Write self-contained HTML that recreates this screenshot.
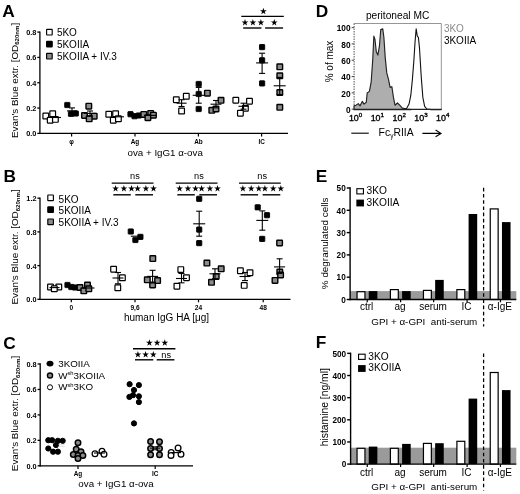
<!DOCTYPE html>
<html><head><meta charset="utf-8"><title>figure</title>
<style>html,body{margin:0;padding:0;background:#fff;}body{width:520px;height:494px;overflow:hidden;font-family:"Liberation Sans",sans-serif;}svg{display:block;filter:grayscale(1) blur(0.35px);}text{font-family:"Liberation Sans",sans-serif;}</style>
</head><body>
<svg width="520" height="494" viewBox="0 0 520 494">
<rect width="520" height="494" fill="#fff"/>
<text x="2.20" y="16.70" font-size="17.3" text-anchor="start" font-weight="bold" fill="#000" >A</text>
<line x1="39.90" y1="31.45" x2="39.90" y2="134.05" stroke="#000" stroke-width="1.3" />
<line x1="37.30" y1="133.40" x2="39.90" y2="133.40" stroke="#000" stroke-width="1.3" />
<text x="36.40" y="136.33" font-size="7.3" text-anchor="end" font-weight="bold" fill="#000" >0.0</text>
<line x1="37.30" y1="108.08" x2="39.90" y2="108.08" stroke="#000" stroke-width="1.3" />
<text x="36.40" y="111.00" font-size="7.3" text-anchor="end" font-weight="bold" fill="#000" >0.2</text>
<line x1="37.30" y1="82.75" x2="39.90" y2="82.75" stroke="#000" stroke-width="1.3" />
<text x="36.40" y="85.68" font-size="7.3" text-anchor="end" font-weight="bold" fill="#000" >0.4</text>
<line x1="37.30" y1="57.43" x2="39.90" y2="57.43" stroke="#000" stroke-width="1.3" />
<text x="36.40" y="60.35" font-size="7.3" text-anchor="end" font-weight="bold" fill="#000" >0.6</text>
<line x1="37.30" y1="32.10" x2="39.90" y2="32.10" stroke="#000" stroke-width="1.3" />
<text x="36.40" y="35.03" font-size="7.3" text-anchor="end" font-weight="bold" fill="#000" >0.8</text>
<line x1="39.30" y1="133.40" x2="288.00" y2="133.40" stroke="#000" stroke-width="1.3" />
<text transform="translate(17.50,80.40) rotate(-90)" font-size="9.85" text-anchor="middle" font-weight="normal" fill="#000" >Evan's Blue extr. [OD<tspan font-size="6.1" dy="1.6" font-weight="bold">620nm</tspan><tspan dy="-1.6">]</tspan></text>
<rect x="46.60" y="29.40" width="5.6" height="5.6" fill="#fff" stroke="#000" stroke-width="1.15" rx="0.45"/>
<text x="56.90" y="36.10" font-size="10" text-anchor="start" font-weight="normal" fill="#000" >5KO</text>
<rect x="46.60" y="41.40" width="5.6" height="5.6" fill="#000" stroke="#000" stroke-width="1.15" rx="0.45"/>
<text x="56.90" y="48.10" font-size="10" text-anchor="start" font-weight="normal" fill="#000" >5KOIIA</text>
<rect x="46.60" y="53.40" width="5.6" height="5.6" fill="#8c8c8c" stroke="#000" stroke-width="1.15" rx="0.45"/>
<text x="56.90" y="60.10" font-size="10" text-anchor="start" font-weight="normal" fill="#000" >5KOIIA + IV.3</text>
<line x1="71.60" y1="133.40" x2="71.60" y2="136.40" stroke="#000" stroke-width="1.2" />
<text x="71.60" y="143.60" font-size="6.4" text-anchor="middle" font-weight="bold" fill="#000" >φ</text>
<line x1="135.00" y1="133.40" x2="135.00" y2="136.40" stroke="#000" stroke-width="1.2" />
<text x="135.00" y="143.60" font-size="6.4" text-anchor="middle" font-weight="bold" fill="#000" >Ag</text>
<line x1="198.40" y1="133.40" x2="198.40" y2="136.40" stroke="#000" stroke-width="1.2" />
<text x="198.40" y="143.60" font-size="6.4" text-anchor="middle" font-weight="bold" fill="#000" >Ab</text>
<line x1="261.60" y1="133.40" x2="261.60" y2="136.40" stroke="#000" stroke-width="1.2" />
<text x="261.60" y="143.60" font-size="6.4" text-anchor="middle" font-weight="bold" fill="#000" >IC</text>
<text x="165.20" y="155.60" font-size="9.75" text-anchor="middle" font-weight="normal" fill="#000" >ova + IgG1 α-ova</text>
<rect x="42.95" y="113.15" width="5.7" height="5.7" fill="#fff" stroke="#000" stroke-width="1.2" rx="0.45"/>
<rect x="49.85" y="110.95" width="5.7" height="5.7" fill="#fff" stroke="#000" stroke-width="1.2" rx="0.45"/>
<rect x="47.35" y="117.35" width="5.7" height="5.7" fill="#fff" stroke="#000" stroke-width="1.2" rx="0.45"/>
<rect x="52.55" y="116.55" width="5.7" height="5.7" fill="#fff" stroke="#000" stroke-width="1.2" rx="0.45"/>
<line x1="51.00" y1="117.50" x2="61.00" y2="117.50" stroke="#000" stroke-width="1.1" />
<rect x="64.70" y="102.40" width="5.2" height="5.2" fill="#000" stroke="#000" stroke-width="0.9" rx="0.45"/>
<rect x="68.40" y="111.20" width="5.2" height="5.2" fill="#000" stroke="#000" stroke-width="0.9" rx="0.45"/>
<rect x="73.20" y="110.90" width="5.2" height="5.2" fill="#000" stroke="#000" stroke-width="0.9" rx="0.45"/>
<line x1="67.00" y1="110.90" x2="77.00" y2="110.90" stroke="#000" stroke-width="1.1" />
<line x1="72.00" y1="107.90" x2="72.00" y2="113.90" stroke="#000" stroke-width="1.1" />
<line x1="69.00" y1="107.90" x2="75.00" y2="107.90" stroke="#000" stroke-width="1.1" />
<line x1="69.00" y1="113.90" x2="75.00" y2="113.90" stroke="#000" stroke-width="1.1" />
<rect x="86.00" y="103.40" width="5.6" height="5.6" fill="#8c8c8c" stroke="#000" stroke-width="1.4" rx="0.45"/>
<rect x="81.70" y="112.70" width="5.6" height="5.6" fill="#8c8c8c" stroke="#000" stroke-width="1.4" rx="0.45"/>
<rect x="91.40" y="113.40" width="5.6" height="5.6" fill="#8c8c8c" stroke="#000" stroke-width="1.4" rx="0.45"/>
<rect x="86.40" y="116.00" width="5.6" height="5.6" fill="#8c8c8c" stroke="#000" stroke-width="1.4" rx="0.45"/>
<line x1="84.00" y1="113.40" x2="96.00" y2="113.40" stroke="#000" stroke-width="1.1" />
<line x1="90.00" y1="111.00" x2="90.00" y2="116.00" stroke="#000" stroke-width="1.1" />
<line x1="87.00" y1="111.00" x2="93.00" y2="111.00" stroke="#000" stroke-width="1.1" />
<line x1="87.00" y1="116.00" x2="93.00" y2="116.00" stroke="#000" stroke-width="1.1" />
<rect x="105.95" y="111.45" width="5.7" height="5.7" fill="#fff" stroke="#000" stroke-width="1.2" rx="0.45"/>
<rect x="112.75" y="110.95" width="5.7" height="5.7" fill="#fff" stroke="#000" stroke-width="1.2" rx="0.45"/>
<rect x="110.45" y="117.35" width="5.7" height="5.7" fill="#fff" stroke="#000" stroke-width="1.2" rx="0.45"/>
<rect x="115.55" y="115.95" width="5.7" height="5.7" fill="#fff" stroke="#000" stroke-width="1.2" rx="0.45"/>
<line x1="113.00" y1="116.80" x2="124.00" y2="116.80" stroke="#000" stroke-width="1.1" />
<rect x="127.90" y="111.60" width="5.2" height="5.2" fill="#000" stroke="#000" stroke-width="0.9" rx="0.45"/>
<rect x="131.90" y="113.60" width="5.2" height="5.2" fill="#000" stroke="#000" stroke-width="0.9" rx="0.45"/>
<rect x="136.20" y="112.90" width="5.2" height="5.2" fill="#000" stroke="#000" stroke-width="0.9" rx="0.45"/>
<line x1="129.00" y1="115.20" x2="140.00" y2="115.20" stroke="#000" stroke-width="1.1" />
<rect x="141.00" y="111.60" width="5.6" height="5.6" fill="#8c8c8c" stroke="#000" stroke-width="1.4" rx="0.45"/>
<rect x="147.90" y="110.60" width="5.6" height="5.6" fill="#8c8c8c" stroke="#000" stroke-width="1.4" rx="0.45"/>
<rect x="145.10" y="114.90" width="5.6" height="5.6" fill="#8c8c8c" stroke="#000" stroke-width="1.4" rx="0.45"/>
<rect x="150.60" y="112.40" width="5.6" height="5.6" fill="#8c8c8c" stroke="#000" stroke-width="1.4" rx="0.45"/>
<line x1="144.00" y1="115.40" x2="157.00" y2="115.40" stroke="#000" stroke-width="1.1" />
<rect x="173.45" y="96.85" width="5.7" height="5.7" fill="#fff" stroke="#000" stroke-width="1.2" rx="0.45"/>
<rect x="183.45" y="93.45" width="5.7" height="5.7" fill="#fff" stroke="#000" stroke-width="1.2" rx="0.45"/>
<rect x="178.75" y="108.15" width="5.7" height="5.7" fill="#fff" stroke="#000" stroke-width="1.2" rx="0.45"/>
<line x1="176.60" y1="103.20" x2="186.60" y2="103.20" stroke="#000" stroke-width="1.1" />
<line x1="181.60" y1="99.70" x2="181.60" y2="106.50" stroke="#000" stroke-width="1.1" />
<line x1="178.60" y1="99.70" x2="184.60" y2="99.70" stroke="#000" stroke-width="1.1" />
<line x1="178.60" y1="106.50" x2="184.60" y2="106.50" stroke="#000" stroke-width="1.1" />
<rect x="196.10" y="81.40" width="5.2" height="5.2" fill="#000" stroke="#000" stroke-width="0.9" rx="0.45"/>
<rect x="196.10" y="91.40" width="5.2" height="5.2" fill="#000" stroke="#000" stroke-width="0.9" rx="0.45"/>
<rect x="196.10" y="106.40" width="5.2" height="5.2" fill="#000" stroke="#000" stroke-width="0.9" rx="0.45"/>
<line x1="192.70" y1="95.30" x2="204.70" y2="95.30" stroke="#000" stroke-width="1.1" />
<line x1="198.70" y1="87.40" x2="198.70" y2="103.20" stroke="#000" stroke-width="1.1" />
<line x1="195.70" y1="87.40" x2="201.70" y2="87.40" stroke="#000" stroke-width="1.1" />
<line x1="195.70" y1="103.20" x2="201.70" y2="103.20" stroke="#000" stroke-width="1.1" />
<rect x="204.60" y="90.40" width="5.6" height="5.6" fill="#8c8c8c" stroke="#000" stroke-width="1.4" rx="0.45"/>
<rect x="218.20" y="97.50" width="5.6" height="5.6" fill="#8c8c8c" stroke="#000" stroke-width="1.4" rx="0.45"/>
<rect x="209.00" y="107.50" width="5.6" height="5.6" fill="#8c8c8c" stroke="#000" stroke-width="1.4" rx="0.45"/>
<rect x="213.20" y="106.20" width="5.6" height="5.6" fill="#8c8c8c" stroke="#000" stroke-width="1.4" rx="0.45"/>
<line x1="210.50" y1="104.20" x2="221.50" y2="104.20" stroke="#000" stroke-width="1.1" />
<line x1="216.00" y1="100.50" x2="216.00" y2="107.80" stroke="#000" stroke-width="1.1" />
<line x1="213.00" y1="100.50" x2="219.00" y2="100.50" stroke="#000" stroke-width="1.1" />
<line x1="213.00" y1="107.80" x2="219.00" y2="107.80" stroke="#000" stroke-width="1.1" />
<rect x="232.95" y="97.35" width="5.7" height="5.7" fill="#fff" stroke="#000" stroke-width="1.2" rx="0.45"/>
<rect x="246.65" y="98.35" width="5.7" height="5.7" fill="#fff" stroke="#000" stroke-width="1.2" rx="0.45"/>
<rect x="242.55" y="105.45" width="5.7" height="5.7" fill="#fff" stroke="#000" stroke-width="1.2" rx="0.45"/>
<rect x="237.55" y="110.35" width="5.7" height="5.7" fill="#fff" stroke="#000" stroke-width="1.2" rx="0.45"/>
<line x1="238.50" y1="106.30" x2="248.50" y2="106.30" stroke="#000" stroke-width="1.1" />
<line x1="243.50" y1="103.20" x2="243.50" y2="109.20" stroke="#000" stroke-width="1.1" />
<line x1="240.50" y1="103.20" x2="246.50" y2="103.20" stroke="#000" stroke-width="1.1" />
<line x1="240.50" y1="109.20" x2="246.50" y2="109.20" stroke="#000" stroke-width="1.1" />
<rect x="259.50" y="44.50" width="5.2" height="5.2" fill="#000" stroke="#000" stroke-width="0.9" rx="0.45"/>
<rect x="259.50" y="57.70" width="5.2" height="5.2" fill="#000" stroke="#000" stroke-width="0.9" rx="0.45"/>
<rect x="259.50" y="80.80" width="5.2" height="5.2" fill="#000" stroke="#000" stroke-width="0.9" rx="0.45"/>
<line x1="256.10" y1="62.90" x2="268.10" y2="62.90" stroke="#000" stroke-width="1.1" />
<line x1="262.10" y1="53.20" x2="262.10" y2="73.40" stroke="#000" stroke-width="1.1" />
<line x1="259.10" y1="53.20" x2="265.10" y2="53.20" stroke="#000" stroke-width="1.1" />
<line x1="259.10" y1="73.40" x2="265.10" y2="73.40" stroke="#000" stroke-width="1.1" />
<rect x="277.00" y="64.00" width="5.6" height="5.6" fill="#8c8c8c" stroke="#000" stroke-width="1.4" rx="0.45"/>
<rect x="277.00" y="73.00" width="5.6" height="5.6" fill="#8c8c8c" stroke="#000" stroke-width="1.4" rx="0.45"/>
<rect x="277.00" y="89.80" width="5.6" height="5.6" fill="#8c8c8c" stroke="#000" stroke-width="1.4" rx="0.45"/>
<rect x="277.00" y="104.50" width="5.6" height="5.6" fill="#8c8c8c" stroke="#000" stroke-width="1.4" rx="0.45"/>
<line x1="273.70" y1="85.80" x2="285.70" y2="85.80" stroke="#000" stroke-width="1.1" />
<line x1="279.70" y1="77.40" x2="279.70" y2="94.50" stroke="#000" stroke-width="1.1" />
<line x1="276.70" y1="77.40" x2="282.70" y2="77.40" stroke="#000" stroke-width="1.1" />
<line x1="276.70" y1="94.50" x2="282.70" y2="94.50" stroke="#000" stroke-width="1.1" />
<line x1="241.30" y1="16.40" x2="283.80" y2="16.40" stroke="#000" stroke-width="1.4" />
<polygon points="263.40,7.75 264.21,10.18 266.78,10.20 264.72,11.73 265.49,14.17 263.40,12.68 261.31,14.17 262.08,11.73 260.02,10.20 262.59,10.18" fill="#000"/>
<polygon points="245.00,19.05 245.81,21.48 248.38,21.50 246.32,23.03 247.09,25.47 245.00,23.98 242.91,25.47 243.68,23.03 241.62,21.50 244.19,21.48" fill="#000"/>
<polygon points="252.90,19.05 253.71,21.48 256.28,21.50 254.22,23.03 254.99,25.47 252.90,23.98 250.81,25.47 251.58,23.03 249.52,21.50 252.09,21.48" fill="#000"/>
<polygon points="260.90,19.05 261.71,21.48 264.28,21.50 262.22,23.03 262.99,25.47 260.90,23.98 258.81,25.47 259.58,23.03 257.52,21.50 260.09,21.48" fill="#000"/>
<polygon points="274.30,19.05 275.11,21.48 277.68,21.50 275.62,23.03 276.39,25.47 274.30,23.98 272.21,25.47 272.98,23.03 270.92,21.50 273.49,21.48" fill="#000"/>
<line x1="243.20" y1="28.00" x2="261.40" y2="28.00" stroke="#000" stroke-width="1.4" />
<line x1="265.10" y1="28.00" x2="283.10" y2="28.00" stroke="#000" stroke-width="1.4" />
<text x="3.40" y="181.60" font-size="17.3" text-anchor="start" font-weight="bold" fill="#000" >B</text>
<line x1="40.00" y1="197.55" x2="40.00" y2="299.95" stroke="#000" stroke-width="1.3" />
<line x1="37.40" y1="299.30" x2="40.00" y2="299.30" stroke="#000" stroke-width="1.3" />
<text x="36.50" y="302.23" font-size="7.3" text-anchor="end" font-weight="bold" fill="#000" >0.0</text>
<line x1="37.40" y1="265.60" x2="40.00" y2="265.60" stroke="#000" stroke-width="1.3" />
<text x="36.50" y="268.53" font-size="7.3" text-anchor="end" font-weight="bold" fill="#000" >0.4</text>
<line x1="37.40" y1="231.90" x2="40.00" y2="231.90" stroke="#000" stroke-width="1.3" />
<text x="36.50" y="234.83" font-size="7.3" text-anchor="end" font-weight="bold" fill="#000" >0.8</text>
<line x1="37.40" y1="198.20" x2="40.00" y2="198.20" stroke="#000" stroke-width="1.3" />
<text x="36.50" y="201.13" font-size="7.3" text-anchor="end" font-weight="bold" fill="#000" >1.2</text>
<line x1="39.40" y1="299.30" x2="290.50" y2="299.30" stroke="#000" stroke-width="1.3" />
<text transform="translate(18.20,246.90) rotate(-90)" font-size="9.85" text-anchor="middle" font-weight="normal" fill="#000" >Evan's Blue extr. [OD<tspan font-size="6.1" dy="1.6" font-weight="bold">620nm</tspan><tspan dy="-1.6">]</tspan></text>
<rect x="47.80" y="195.00" width="5.6" height="5.6" fill="#fff" stroke="#000" stroke-width="1.15" rx="0.45"/>
<text x="58.60" y="203.00" font-size="10" text-anchor="start" font-weight="normal" fill="#000" >5KO</text>
<rect x="47.80" y="206.90" width="5.6" height="5.6" fill="#000" stroke="#000" stroke-width="1.15" rx="0.45"/>
<text x="58.60" y="214.10" font-size="10" text-anchor="start" font-weight="normal" fill="#000" >5KOIIA</text>
<rect x="47.80" y="219.00" width="5.6" height="5.6" fill="#8c8c8c" stroke="#000" stroke-width="1.15" rx="0.45"/>
<text x="58.60" y="225.50" font-size="10" text-anchor="start" font-weight="normal" fill="#000" >5KOIIA + IV.3</text>
<line x1="71.30" y1="299.30" x2="71.30" y2="302.30" stroke="#000" stroke-width="1.2" />
<text x="71.30" y="309.80" font-size="6.6" text-anchor="middle" font-weight="bold" fill="#000" >0</text>
<line x1="135.00" y1="299.30" x2="135.00" y2="302.30" stroke="#000" stroke-width="1.2" />
<text x="135.00" y="309.80" font-size="6.6" text-anchor="middle" font-weight="bold" fill="#000" >9,6</text>
<line x1="198.50" y1="299.30" x2="198.50" y2="302.30" stroke="#000" stroke-width="1.2" />
<text x="198.50" y="309.80" font-size="6.6" text-anchor="middle" font-weight="bold" fill="#000" >24</text>
<line x1="263.20" y1="299.30" x2="263.20" y2="302.30" stroke="#000" stroke-width="1.2" />
<text x="263.20" y="309.80" font-size="6.6" text-anchor="middle" font-weight="bold" fill="#000" >48</text>
<text x="166.50" y="321.30" font-size="10" text-anchor="middle" font-weight="normal" fill="#000" >human IgG HA [μg]</text>
<rect x="47.65" y="284.15" width="5.7" height="5.7" fill="#fff" stroke="#000" stroke-width="1.2" rx="0.45"/>
<rect x="55.95" y="284.15" width="5.7" height="5.7" fill="#fff" stroke="#000" stroke-width="1.2" rx="0.45"/>
<rect x="51.45" y="285.95" width="5.7" height="5.7" fill="#fff" stroke="#000" stroke-width="1.2" rx="0.45"/>
<line x1="49.50" y1="287.60" x2="59.50" y2="287.60" stroke="#000" stroke-width="1.1" />
<rect x="64.90" y="282.40" width="5.2" height="5.2" fill="#000" stroke="#000" stroke-width="0.9" rx="0.45"/>
<rect x="68.70" y="284.40" width="5.2" height="5.2" fill="#000" stroke="#000" stroke-width="0.9" rx="0.45"/>
<rect x="72.40" y="284.90" width="5.2" height="5.2" fill="#000" stroke="#000" stroke-width="0.9" rx="0.45"/>
<rect x="77.20" y="284.70" width="5.6" height="5.6" fill="#8c8c8c" stroke="#000" stroke-width="1.4" rx="0.45"/>
<rect x="84.70" y="282.20" width="5.6" height="5.6" fill="#8c8c8c" stroke="#000" stroke-width="1.4" rx="0.45"/>
<rect x="81.00" y="288.00" width="5.6" height="5.6" fill="#8c8c8c" stroke="#000" stroke-width="1.4" rx="0.45"/>
<rect x="86.00" y="286.00" width="5.6" height="5.6" fill="#8c8c8c" stroke="#000" stroke-width="1.4" rx="0.45"/>
<line x1="82.50" y1="288.00" x2="94.50" y2="288.00" stroke="#000" stroke-width="1.1" />
<rect x="110.75" y="266.35" width="5.7" height="5.7" fill="#fff" stroke="#000" stroke-width="1.2" rx="0.45"/>
<rect x="119.55" y="274.95" width="5.7" height="5.7" fill="#fff" stroke="#000" stroke-width="1.2" rx="0.45"/>
<rect x="114.95" y="284.95" width="5.7" height="5.7" fill="#fff" stroke="#000" stroke-width="1.2" rx="0.45"/>
<line x1="112.50" y1="278.00" x2="123.50" y2="278.00" stroke="#000" stroke-width="1.1" />
<line x1="118.00" y1="272.50" x2="118.00" y2="283.80" stroke="#000" stroke-width="1.1" />
<line x1="115.00" y1="272.50" x2="121.00" y2="272.50" stroke="#000" stroke-width="1.1" />
<line x1="115.00" y1="283.80" x2="121.00" y2="283.80" stroke="#000" stroke-width="1.1" />
<rect x="128.20" y="228.90" width="5.2" height="5.2" fill="#000" stroke="#000" stroke-width="0.9" rx="0.45"/>
<rect x="137.80" y="234.30" width="5.2" height="5.2" fill="#000" stroke="#000" stroke-width="0.9" rx="0.45"/>
<rect x="132.80" y="237.40" width="5.2" height="5.2" fill="#000" stroke="#000" stroke-width="0.9" rx="0.45"/>
<line x1="130.80" y1="236.20" x2="140.80" y2="236.20" stroke="#000" stroke-width="1.1" />
<rect x="150.00" y="255.80" width="5.6" height="5.6" fill="#8c8c8c" stroke="#000" stroke-width="1.4" rx="0.45"/>
<rect x="144.50" y="277.00" width="5.6" height="5.6" fill="#8c8c8c" stroke="#000" stroke-width="1.4" rx="0.45"/>
<rect x="154.80" y="277.80" width="5.6" height="5.6" fill="#8c8c8c" stroke="#000" stroke-width="1.4" rx="0.45"/>
<rect x="149.80" y="282.20" width="5.6" height="5.6" fill="#8c8c8c" stroke="#000" stroke-width="1.4" rx="0.45"/>
<line x1="147.10" y1="276.40" x2="158.10" y2="276.40" stroke="#000" stroke-width="1.1" />
<line x1="152.60" y1="270.30" x2="152.60" y2="283.00" stroke="#000" stroke-width="1.1" />
<line x1="149.60" y1="270.30" x2="155.60" y2="270.30" stroke="#000" stroke-width="1.1" />
<line x1="149.60" y1="283.00" x2="155.60" y2="283.00" stroke="#000" stroke-width="1.1" />
<rect x="177.95" y="266.75" width="5.7" height="5.7" fill="#fff" stroke="#000" stroke-width="1.2" rx="0.45"/>
<rect x="183.65" y="274.85" width="5.7" height="5.7" fill="#fff" stroke="#000" stroke-width="1.2" rx="0.45"/>
<rect x="174.05" y="283.35" width="5.7" height="5.7" fill="#fff" stroke="#000" stroke-width="1.2" rx="0.45"/>
<line x1="176.00" y1="278.50" x2="187.00" y2="278.50" stroke="#000" stroke-width="1.1" />
<line x1="181.50" y1="273.50" x2="181.50" y2="282.80" stroke="#000" stroke-width="1.1" />
<line x1="178.50" y1="273.50" x2="184.50" y2="273.50" stroke="#000" stroke-width="1.1" />
<line x1="178.50" y1="282.80" x2="184.50" y2="282.80" stroke="#000" stroke-width="1.1" />
<rect x="196.60" y="196.20" width="5.2" height="5.2" fill="#000" stroke="#000" stroke-width="0.9" rx="0.45"/>
<rect x="196.60" y="227.00" width="5.2" height="5.2" fill="#000" stroke="#000" stroke-width="0.9" rx="0.45"/>
<rect x="196.60" y="240.50" width="5.2" height="5.2" fill="#000" stroke="#000" stroke-width="0.9" rx="0.45"/>
<line x1="193.20" y1="223.80" x2="205.20" y2="223.80" stroke="#000" stroke-width="1.1" />
<line x1="199.20" y1="211.20" x2="199.20" y2="236.20" stroke="#000" stroke-width="1.1" />
<line x1="196.20" y1="211.20" x2="202.20" y2="211.20" stroke="#000" stroke-width="1.1" />
<line x1="196.20" y1="236.20" x2="202.20" y2="236.20" stroke="#000" stroke-width="1.1" />
<rect x="204.10" y="260.30" width="5.6" height="5.6" fill="#8c8c8c" stroke="#000" stroke-width="1.4" rx="0.45"/>
<rect x="218.40" y="266.00" width="5.6" height="5.6" fill="#8c8c8c" stroke="#000" stroke-width="1.4" rx="0.45"/>
<rect x="213.40" y="273.70" width="5.6" height="5.6" fill="#8c8c8c" stroke="#000" stroke-width="1.4" rx="0.45"/>
<rect x="208.70" y="279.50" width="5.6" height="5.6" fill="#8c8c8c" stroke="#000" stroke-width="1.4" rx="0.45"/>
<line x1="209.50" y1="273.80" x2="220.50" y2="273.80" stroke="#000" stroke-width="1.1" />
<line x1="215.00" y1="268.80" x2="215.00" y2="278.80" stroke="#000" stroke-width="1.1" />
<line x1="212.00" y1="268.80" x2="218.00" y2="268.80" stroke="#000" stroke-width="1.1" />
<line x1="212.00" y1="278.80" x2="218.00" y2="278.80" stroke="#000" stroke-width="1.1" />
<rect x="237.55" y="267.95" width="5.7" height="5.7" fill="#fff" stroke="#000" stroke-width="1.2" rx="0.45"/>
<rect x="247.15" y="269.85" width="5.7" height="5.7" fill="#fff" stroke="#000" stroke-width="1.2" rx="0.45"/>
<rect x="241.35" y="282.55" width="5.7" height="5.7" fill="#fff" stroke="#000" stroke-width="1.2" rx="0.45"/>
<line x1="239.50" y1="276.50" x2="250.50" y2="276.50" stroke="#000" stroke-width="1.1" />
<line x1="245.00" y1="272.50" x2="245.00" y2="280.60" stroke="#000" stroke-width="1.1" />
<line x1="242.00" y1="272.50" x2="248.00" y2="272.50" stroke="#000" stroke-width="1.1" />
<line x1="242.00" y1="280.60" x2="248.00" y2="280.60" stroke="#000" stroke-width="1.1" />
<rect x="255.10" y="204.70" width="5.2" height="5.2" fill="#000" stroke="#000" stroke-width="0.9" rx="0.45"/>
<rect x="264.40" y="212.60" width="5.2" height="5.2" fill="#000" stroke="#000" stroke-width="0.9" rx="0.45"/>
<rect x="259.60" y="236.30" width="5.2" height="5.2" fill="#000" stroke="#000" stroke-width="0.9" rx="0.45"/>
<line x1="256.30" y1="220.40" x2="268.30" y2="220.40" stroke="#000" stroke-width="1.1" />
<line x1="262.30" y1="210.90" x2="262.30" y2="230.20" stroke="#000" stroke-width="1.1" />
<line x1="259.30" y1="210.90" x2="265.30" y2="210.90" stroke="#000" stroke-width="1.1" />
<line x1="259.30" y1="230.20" x2="265.30" y2="230.20" stroke="#000" stroke-width="1.1" />
<rect x="276.80" y="240.20" width="5.6" height="5.6" fill="#8c8c8c" stroke="#000" stroke-width="1.4" rx="0.45"/>
<rect x="277.00" y="269.20" width="5.6" height="5.6" fill="#8c8c8c" stroke="#000" stroke-width="1.4" rx="0.45"/>
<rect x="272.20" y="277.60" width="5.6" height="5.6" fill="#8c8c8c" stroke="#000" stroke-width="1.4" rx="0.45"/>
<rect x="277.80" y="272.20" width="5.6" height="5.6" fill="#8c8c8c" stroke="#000" stroke-width="1.4" rx="0.45"/>
<line x1="274.10" y1="266.90" x2="285.10" y2="266.90" stroke="#000" stroke-width="1.1" />
<line x1="279.60" y1="258.80" x2="279.60" y2="273.50" stroke="#000" stroke-width="1.1" />
<line x1="276.60" y1="258.80" x2="282.60" y2="258.80" stroke="#000" stroke-width="1.1" />
<line x1="276.60" y1="273.50" x2="282.60" y2="273.50" stroke="#000" stroke-width="1.1" />
<text x="134.90" y="179.20" font-size="9.2" text-anchor="middle" font-weight="normal" fill="#000" >ns</text>
<line x1="111.70" y1="183.10" x2="153.50" y2="183.10" stroke="#000" stroke-width="1.4" />
<polygon points="115.60,185.05 116.41,187.48 118.98,187.50 116.92,189.03 117.69,191.47 115.60,189.98 113.51,191.47 114.28,189.03 112.22,187.50 114.79,187.48" fill="#000"/>
<polygon points="123.90,185.05 124.71,187.48 127.28,187.50 125.22,189.03 125.99,191.47 123.90,189.98 121.81,191.47 122.58,189.03 120.52,187.50 123.09,187.48" fill="#000"/>
<polygon points="131.50,185.05 132.31,187.48 134.88,187.50 132.82,189.03 133.59,191.47 131.50,189.98 129.41,191.47 130.18,189.03 128.12,187.50 130.69,187.48" fill="#000"/>
<polygon points="137.60,185.05 138.41,187.48 140.98,187.50 138.92,189.03 139.69,191.47 137.60,189.98 135.51,191.47 136.28,189.03 134.22,187.50 136.79,187.48" fill="#000"/>
<polygon points="145.90,185.05 146.71,187.48 149.28,187.50 147.22,189.03 147.99,191.47 145.90,189.98 143.81,191.47 144.58,189.03 142.52,187.50 145.09,187.48" fill="#000"/>
<polygon points="153.50,185.05 154.31,187.48 156.88,187.50 154.82,189.03 155.59,191.47 153.50,189.98 151.41,191.47 152.18,189.03 150.12,187.50 152.69,187.48" fill="#000"/>
<line x1="113.30" y1="194.80" x2="130.80" y2="194.80" stroke="#000" stroke-width="1.4" />
<line x1="135.30" y1="194.80" x2="153.00" y2="194.80" stroke="#000" stroke-width="1.4" />
<text x="198.90" y="179.20" font-size="9.2" text-anchor="middle" font-weight="normal" fill="#000" >ns</text>
<line x1="175.70" y1="183.10" x2="217.50" y2="183.10" stroke="#000" stroke-width="1.4" />
<polygon points="179.60,185.05 180.41,187.48 182.98,187.50 180.92,189.03 181.69,191.47 179.60,189.98 177.51,191.47 178.28,189.03 176.22,187.50 178.79,187.48" fill="#000"/>
<polygon points="187.90,185.05 188.71,187.48 191.28,187.50 189.22,189.03 189.99,191.47 187.90,189.98 185.81,191.47 186.58,189.03 184.52,187.50 187.09,187.48" fill="#000"/>
<polygon points="195.50,185.05 196.31,187.48 198.88,187.50 196.82,189.03 197.59,191.47 195.50,189.98 193.41,191.47 194.18,189.03 192.12,187.50 194.69,187.48" fill="#000"/>
<polygon points="201.60,185.05 202.41,187.48 204.98,187.50 202.92,189.03 203.69,191.47 201.60,189.98 199.51,191.47 200.28,189.03 198.22,187.50 200.79,187.48" fill="#000"/>
<polygon points="209.90,185.05 210.71,187.48 213.28,187.50 211.22,189.03 211.99,191.47 209.90,189.98 207.81,191.47 208.58,189.03 206.52,187.50 209.09,187.48" fill="#000"/>
<polygon points="217.50,185.05 218.31,187.48 220.88,187.50 218.82,189.03 219.59,191.47 217.50,189.98 215.41,191.47 216.18,189.03 214.12,187.50 216.69,187.48" fill="#000"/>
<line x1="177.30" y1="194.80" x2="194.80" y2="194.80" stroke="#000" stroke-width="1.4" />
<line x1="199.30" y1="194.80" x2="217.00" y2="194.80" stroke="#000" stroke-width="1.4" />
<text x="262.20" y="179.20" font-size="9.2" text-anchor="middle" font-weight="normal" fill="#000" >ns</text>
<line x1="239.00" y1="183.10" x2="280.80" y2="183.10" stroke="#000" stroke-width="1.4" />
<polygon points="242.90,185.05 243.71,187.48 246.28,187.50 244.22,189.03 244.99,191.47 242.90,189.98 240.81,191.47 241.58,189.03 239.52,187.50 242.09,187.48" fill="#000"/>
<polygon points="251.20,185.05 252.01,187.48 254.58,187.50 252.52,189.03 253.29,191.47 251.20,189.98 249.11,191.47 249.88,189.03 247.82,187.50 250.39,187.48" fill="#000"/>
<polygon points="258.80,185.05 259.61,187.48 262.18,187.50 260.12,189.03 260.89,191.47 258.80,189.98 256.71,191.47 257.48,189.03 255.42,187.50 257.99,187.48" fill="#000"/>
<polygon points="264.90,185.05 265.71,187.48 268.28,187.50 266.22,189.03 266.99,191.47 264.90,189.98 262.81,191.47 263.58,189.03 261.52,187.50 264.09,187.48" fill="#000"/>
<polygon points="273.20,185.05 274.01,187.48 276.58,187.50 274.52,189.03 275.29,191.47 273.20,189.98 271.11,191.47 271.88,189.03 269.82,187.50 272.39,187.48" fill="#000"/>
<polygon points="280.80,185.05 281.61,187.48 284.18,187.50 282.12,189.03 282.89,191.47 280.80,189.98 278.71,191.47 279.48,189.03 277.42,187.50 279.99,187.48" fill="#000"/>
<line x1="240.60" y1="194.80" x2="258.10" y2="194.80" stroke="#000" stroke-width="1.4" />
<line x1="262.60" y1="194.80" x2="280.30" y2="194.80" stroke="#000" stroke-width="1.4" />
<text x="3.20" y="348.60" font-size="17.3" text-anchor="start" font-weight="bold" fill="#000" >C</text>
<line x1="40.20" y1="363.35" x2="40.20" y2="466.45" stroke="#000" stroke-width="1.3" />
<line x1="37.60" y1="465.80" x2="40.20" y2="465.80" stroke="#000" stroke-width="1.3" />
<text x="36.70" y="468.73" font-size="7.3" text-anchor="end" font-weight="bold" fill="#000" >0.0</text>
<line x1="37.60" y1="440.35" x2="40.20" y2="440.35" stroke="#000" stroke-width="1.3" />
<text x="36.70" y="443.28" font-size="7.3" text-anchor="end" font-weight="bold" fill="#000" >0.2</text>
<line x1="37.60" y1="414.90" x2="40.20" y2="414.90" stroke="#000" stroke-width="1.3" />
<text x="36.70" y="417.83" font-size="7.3" text-anchor="end" font-weight="bold" fill="#000" >0.4</text>
<line x1="37.60" y1="389.45" x2="40.20" y2="389.45" stroke="#000" stroke-width="1.3" />
<text x="36.70" y="392.38" font-size="7.3" text-anchor="end" font-weight="bold" fill="#000" >0.6</text>
<line x1="37.60" y1="364.00" x2="40.20" y2="364.00" stroke="#000" stroke-width="1.3" />
<text x="36.70" y="366.93" font-size="7.3" text-anchor="end" font-weight="bold" fill="#000" >0.8</text>
<line x1="39.60" y1="465.80" x2="193.00" y2="465.80" stroke="#000" stroke-width="1.3" />
<text transform="translate(18.00,413.50) rotate(-90)" font-size="9.85" text-anchor="middle" font-weight="normal" fill="#000" >Evan's Blue extr. [OD<tspan font-size="6.1" dy="1.6" font-weight="bold">620nm</tspan><tspan dy="-1.6">]</tspan></text>
<text x="58.20" y="367.00" font-size="9.8" text-anchor="start" font-weight="normal" fill="#000" >3KOIIA</text>
<text x="58.20" y="378.55" font-size="9.8" text-anchor="start" font-weight="normal" fill="#000" >W<tspan font-size="5.8" dy="-3.6">sh</tspan><tspan dy="3.6">3KOIIA</tspan></text>
<text x="58.20" y="390.10" font-size="9.8" text-anchor="start" font-weight="normal" fill="#000" >W<tspan font-size="5.8" dy="-3.6">sh</tspan><tspan dy="3.6">3KO</tspan></text>
<ellipse cx="50.0" cy="363.6" rx="3.5" ry="2.9" fill="#000"/>
<circle cx="50.0" cy="375.5" r="2.55" fill="#8c8c8c" stroke="#000" stroke-width="1.4"/>
<circle cx="50.0" cy="387.3" r="2.55" fill="#fff" stroke="#000" stroke-width="1.0"/>
<line x1="78.00" y1="465.80" x2="78.00" y2="469.10" stroke="#000" stroke-width="1.2" />
<text x="78.00" y="475.80" font-size="6.4" text-anchor="middle" font-weight="bold" fill="#000" >Ag</text>
<line x1="155.20" y1="465.80" x2="155.20" y2="469.10" stroke="#000" stroke-width="1.2" />
<text x="155.20" y="475.80" font-size="6.4" text-anchor="middle" font-weight="bold" fill="#000" >IC</text>
<text x="116.00" y="487.30" font-size="9.75" text-anchor="middle" font-weight="normal" fill="#000" >ova + IgG1 α-ova</text>
<circle cx="48.30" cy="440.20" r="2.6" fill="#000" stroke="#000" stroke-width="1.0"/>
<circle cx="52.10" cy="440.20" r="2.6" fill="#000" stroke="#000" stroke-width="1.0"/>
<circle cx="57.90" cy="440.80" r="2.6" fill="#000" stroke="#000" stroke-width="1.0"/>
<circle cx="62.70" cy="440.80" r="2.6" fill="#000" stroke="#000" stroke-width="1.0"/>
<circle cx="56.00" cy="445.00" r="2.6" fill="#000" stroke="#000" stroke-width="1.0"/>
<circle cx="48.30" cy="448.50" r="2.6" fill="#000" stroke="#000" stroke-width="1.0"/>
<circle cx="53.10" cy="451.70" r="2.6" fill="#000" stroke="#000" stroke-width="1.0"/>
<circle cx="57.90" cy="451.70" r="2.6" fill="#000" stroke="#000" stroke-width="1.0"/>
<line x1="58.50" y1="444.60" x2="64.50" y2="444.60" stroke="#ddd" stroke-width="0.9" />
<line x1="58.50" y1="446.40" x2="64.50" y2="446.40" stroke="#ddd" stroke-width="0.9" />
<circle cx="78.00" cy="442.70" r="2.75" fill="#8c8c8c" stroke="#000" stroke-width="1.5"/>
<circle cx="76.20" cy="449.20" r="2.75" fill="#8c8c8c" stroke="#000" stroke-width="1.5"/>
<circle cx="81.00" cy="451.70" r="2.75" fill="#8c8c8c" stroke="#000" stroke-width="1.5"/>
<circle cx="73.30" cy="454.60" r="2.75" fill="#8c8c8c" stroke="#000" stroke-width="1.5"/>
<circle cx="78.00" cy="455.60" r="2.75" fill="#8c8c8c" stroke="#000" stroke-width="1.5"/>
<circle cx="82.90" cy="455.60" r="2.75" fill="#8c8c8c" stroke="#000" stroke-width="1.5"/>
<circle cx="78.00" cy="458.50" r="2.75" fill="#8c8c8c" stroke="#000" stroke-width="1.5"/>
<circle cx="95.00" cy="453.70" r="2.85" fill="#fff" stroke="#000" stroke-width="1.3"/>
<circle cx="102.00" cy="451.20" r="2.85" fill="#fff" stroke="#000" stroke-width="1.3"/>
<circle cx="104.00" cy="454.20" r="2.85" fill="#fff" stroke="#000" stroke-width="1.3"/>
<line x1="94.00" y1="453.00" x2="105.00" y2="453.00" stroke="#000" stroke-width="1.1" />
<circle cx="129.60" cy="384.20" r="2.6" fill="#000" stroke="#000" stroke-width="1.0"/>
<circle cx="138.90" cy="385.10" r="2.6" fill="#000" stroke="#000" stroke-width="1.0"/>
<circle cx="134.00" cy="390.00" r="2.6" fill="#000" stroke="#000" stroke-width="1.0"/>
<circle cx="129.40" cy="396.90" r="2.6" fill="#000" stroke="#000" stroke-width="1.0"/>
<circle cx="138.90" cy="396.30" r="2.6" fill="#000" stroke="#000" stroke-width="1.0"/>
<circle cx="133.00" cy="395.20" r="2.6" fill="#000" stroke="#000" stroke-width="1.0"/>
<circle cx="138.90" cy="402.10" r="2.6" fill="#000" stroke="#000" stroke-width="1.0"/>
<circle cx="134.00" cy="423.40" r="2.6" fill="#000" stroke="#000" stroke-width="1.0"/>
<circle cx="132.60" cy="399.60" r="0.9" fill="#fff" stroke="#000" stroke-width="0"/>
<circle cx="150.60" cy="441.60" r="2.75" fill="#8c8c8c" stroke="#000" stroke-width="1.5"/>
<circle cx="159.50" cy="441.80" r="2.75" fill="#8c8c8c" stroke="#000" stroke-width="1.5"/>
<circle cx="150.60" cy="448.50" r="2.75" fill="#8c8c8c" stroke="#000" stroke-width="1.5"/>
<circle cx="159.50" cy="448.50" r="2.75" fill="#8c8c8c" stroke="#000" stroke-width="1.5"/>
<circle cx="150.60" cy="454.80" r="2.75" fill="#8c8c8c" stroke="#000" stroke-width="1.5"/>
<circle cx="159.50" cy="454.80" r="2.75" fill="#8c8c8c" stroke="#000" stroke-width="1.5"/>
<line x1="150.10" y1="448.20" x2="160.10" y2="448.20" stroke="#000" stroke-width="0.9" />
<line x1="155.10" y1="446.80" x2="155.10" y2="449.80" stroke="#000" stroke-width="0.9" />
<line x1="152.10" y1="446.80" x2="158.10" y2="446.80" stroke="#000" stroke-width="0.9" />
<line x1="152.10" y1="449.80" x2="158.10" y2="449.80" stroke="#000" stroke-width="0.9" />
<circle cx="178.10" cy="447.90" r="2.85" fill="#fff" stroke="#000" stroke-width="1.3"/>
<circle cx="171.20" cy="452.40" r="2.85" fill="#fff" stroke="#000" stroke-width="1.3"/>
<circle cx="181.00" cy="454.20" r="2.85" fill="#fff" stroke="#000" stroke-width="1.3"/>
<circle cx="171.00" cy="455.40" r="2.85" fill="#fff" stroke="#000" stroke-width="1.3"/>
<line x1="171.00" y1="452.60" x2="181.00" y2="452.60" stroke="#000" stroke-width="1.1" />
<polygon points="149.40,339.35 150.21,341.78 152.78,341.80 150.72,343.33 151.49,345.77 149.40,344.28 147.31,345.77 148.08,343.33 146.02,341.80 148.59,341.78" fill="#000"/>
<polygon points="157.10,339.35 157.91,341.78 160.48,341.80 158.42,343.33 159.19,345.77 157.10,344.28 155.01,345.77 155.78,343.33 153.72,341.80 156.29,341.78" fill="#000"/>
<polygon points="164.80,339.35 165.61,341.78 168.18,341.80 166.12,343.33 166.89,345.77 164.80,344.28 162.71,345.77 163.48,343.33 161.42,341.80 163.99,341.78" fill="#000"/>
<line x1="133.00" y1="348.80" x2="175.40" y2="348.80" stroke="#000" stroke-width="1.4" />
<polygon points="137.90,351.05 138.71,353.48 141.28,353.50 139.22,355.03 139.99,357.47 137.90,355.98 135.81,357.47 136.58,355.03 134.52,353.50 137.09,353.48" fill="#000"/>
<polygon points="145.60,351.05 146.41,353.48 148.98,353.50 146.92,355.03 147.69,357.47 145.60,355.98 143.51,357.47 144.28,355.03 142.22,353.50 144.79,353.48" fill="#000"/>
<polygon points="153.30,351.05 154.11,353.48 156.68,353.50 154.62,355.03 155.39,357.47 153.30,355.98 151.21,357.47 151.98,355.03 149.92,353.50 152.49,353.48" fill="#000"/>
<text x="166.20" y="357.50" font-size="9.2" text-anchor="middle" font-weight="normal" fill="#000" >ns</text>
<line x1="135.00" y1="359.80" x2="153.30" y2="359.80" stroke="#000" stroke-width="1.4" />
<line x1="156.70" y1="359.80" x2="174.40" y2="359.80" stroke="#000" stroke-width="1.4" />
<text x="315.80" y="17.20" font-size="17.3" text-anchor="start" font-weight="bold" fill="#000" >D</text>
<text x="397.60" y="19.30" font-size="10.2" text-anchor="middle" font-weight="normal" fill="#000" >peritoneal MC</text>
<polygon points="354.03,109.65 354.03,105.87 356.04,105.20 358.26,103.64 360.04,105.87 362.27,101.41 364.05,104.09 366.28,102.31 367.17,92.95 369.40,91.39 371.18,81.82 372.74,59.54 373.85,36.16 374.97,39.50 376.30,51.75 377.86,55.09 379.42,46.18 380.76,29.48 382.76,28.81 383.88,37.27 385.21,57.32 386.77,72.91 388.55,79.59 390.11,87.38 391.89,86.71 393.45,97.41 395.01,105.20 397.46,102.97 399.69,105.20 402.36,108.10 406.82,108.99 411.27,109.65" fill="#aeaeae" stroke="#222" stroke-width="1.15" stroke-linejoin="round"/>
<polyline points="404.59,109.65 406.82,108.10 409.04,104.09 410.82,95.18 412.38,79.59 413.94,59.54 415.06,41.73 416.17,28.81 417.28,36.16 418.40,37.27 419.51,48.41 421.29,77.36 422.85,97.41 424.63,106.31 426.86,108.99 431.31,109.65 441.34,109.65" fill="none" stroke="#111" stroke-width="1.1" stroke-linejoin="round"/>
<path d="M354.1,23.5 H441.3 V109.4" fill="none" stroke="#8a8a8a" stroke-width="0.9"/>
<line x1="354.10" y1="23.50" x2="354.10" y2="109.40" stroke="#555" stroke-width="1" stroke-dasharray="1.5,1"/>
<line x1="353.60" y1="109.40" x2="441.80" y2="109.40" stroke="#222" stroke-width="1.4" />
<line x1="351.70" y1="109.20" x2="354.10" y2="109.20" stroke="#333" stroke-width="0.9" />
<text x="350.60" y="112.90" font-size="8.3" text-anchor="end" font-weight="bold" fill="#000" >0</text>
<line x1="351.70" y1="92.88" x2="354.10" y2="92.88" stroke="#333" stroke-width="0.9" />
<text x="350.60" y="96.58" font-size="8.3" text-anchor="end" font-weight="bold" fill="#000" >20</text>
<line x1="351.70" y1="76.56" x2="354.10" y2="76.56" stroke="#333" stroke-width="0.9" />
<text x="350.60" y="80.26" font-size="8.3" text-anchor="end" font-weight="bold" fill="#000" >40</text>
<line x1="351.70" y1="60.24" x2="354.10" y2="60.24" stroke="#333" stroke-width="0.9" />
<text x="350.60" y="63.94" font-size="8.3" text-anchor="end" font-weight="bold" fill="#000" >60</text>
<line x1="351.70" y1="43.92" x2="354.10" y2="43.92" stroke="#333" stroke-width="0.9" />
<text x="350.60" y="47.62" font-size="8.3" text-anchor="end" font-weight="bold" fill="#000" >80</text>
<line x1="351.70" y1="27.60" x2="354.10" y2="27.60" stroke="#333" stroke-width="0.9" />
<text x="350.60" y="31.30" font-size="8.3" text-anchor="end" font-weight="bold" fill="#000" >100</text>
<text x="348.90" y="121.40" font-size="8.9" text-anchor="start" font-weight="normal" fill="#000" stroke="#000" stroke-width="0.35">10<tspan font-size="6.2" dy="-4">0</tspan></text>
<text x="370.70" y="121.40" font-size="8.9" text-anchor="start" font-weight="normal" fill="#000" stroke="#000" stroke-width="0.35">10<tspan font-size="6.2" dy="-4">1</tspan></text>
<text x="392.50" y="121.40" font-size="8.9" text-anchor="start" font-weight="normal" fill="#000" stroke="#000" stroke-width="0.35">10<tspan font-size="6.2" dy="-4">2</tspan></text>
<text x="414.30" y="121.40" font-size="8.9" text-anchor="start" font-weight="normal" fill="#000" stroke="#000" stroke-width="0.35">10<tspan font-size="6.2" dy="-4">3</tspan></text>
<text x="436.10" y="121.40" font-size="8.9" text-anchor="start" font-weight="normal" fill="#000" stroke="#000" stroke-width="0.35">10<tspan font-size="6.2" dy="-4">4</tspan></text>
<text transform="translate(333.20,61.50) rotate(-90)" font-size="10" text-anchor="middle" font-weight="normal" fill="#000" >% of max</text>
<text x="443.90" y="32.30" font-size="10.0" text-anchor="start" font-weight="normal" fill="#8a8a8a" >3KO</text>
<text x="443.90" y="43.80" font-size="10.0" text-anchor="start" font-weight="normal" fill="#000" >3KOIIA</text>
<line x1="351.30" y1="133.20" x2="368.80" y2="133.20" stroke="#000" stroke-width="1.1" />
<text x="378.60" y="136.10" font-size="10.4" text-anchor="start" font-weight="normal" fill="#000" >Fc<tspan font-size="6.5" dy="1.6">γ</tspan><tspan dy="-1.6">RIIA</tspan></text>
<path d="M422.4,133.4 H440.8 M435.6,130 L441,133.4 L435.6,136.8" fill="none" stroke="#000" stroke-width="1.1"/>
<text x="315.80" y="182.10" font-size="17.3" text-anchor="start" font-weight="bold" fill="#000" >E</text>
<rect x="350.10" y="291.10" width="166.20" height="8.40" fill="#9a9a9a"/>
<rect x="357.05" y="291.70" width="7.90" height="7.80" fill="#fff" stroke="#000" stroke-width="1.2"/>
<rect x="368.75" y="291.10" width="8.60" height="8.40" fill="#000"/>
<line x1="367.25" y1="299.50" x2="367.25" y2="302.30" stroke="#000" stroke-width="1.2" />
<rect x="390.40" y="289.60" width="7.90" height="9.90" fill="#fff" stroke="#000" stroke-width="1.2"/>
<rect x="402.10" y="291.10" width="8.60" height="8.40" fill="#000"/>
<line x1="400.60" y1="299.50" x2="400.60" y2="302.30" stroke="#000" stroke-width="1.2" />
<rect x="423.45" y="290.40" width="7.90" height="9.10" fill="#fff" stroke="#000" stroke-width="1.2"/>
<rect x="435.15" y="279.90" width="8.60" height="19.60" fill="#000"/>
<line x1="433.65" y1="299.50" x2="433.65" y2="302.30" stroke="#000" stroke-width="1.2" />
<rect x="456.90" y="289.60" width="7.90" height="9.90" fill="#fff" stroke="#000" stroke-width="1.2"/>
<rect x="468.60" y="214.00" width="8.60" height="85.50" fill="#000"/>
<line x1="467.10" y1="299.50" x2="467.10" y2="302.30" stroke="#000" stroke-width="1.2" />
<rect x="490.25" y="208.90" width="7.90" height="90.60" fill="#fff" stroke="#000" stroke-width="1.2"/>
<rect x="501.95" y="222.10" width="8.60" height="77.40" fill="#000"/>
<line x1="500.45" y1="299.50" x2="500.45" y2="302.30" stroke="#000" stroke-width="1.2" />
<line x1="350.10" y1="187.30" x2="350.10" y2="300.20" stroke="#000" stroke-width="1.4" />
<line x1="346.70" y1="299.50" x2="350.10" y2="299.50" stroke="#000" stroke-width="1.4" />
<text x="345.70" y="302.75" font-size="8.2" text-anchor="end" font-weight="bold" fill="#000" >0</text>
<line x1="346.70" y1="277.20" x2="350.10" y2="277.20" stroke="#000" stroke-width="1.4" />
<text x="345.70" y="280.45" font-size="8.2" text-anchor="end" font-weight="bold" fill="#000" >10</text>
<line x1="346.70" y1="254.90" x2="350.10" y2="254.90" stroke="#000" stroke-width="1.4" />
<text x="345.70" y="258.15" font-size="8.2" text-anchor="end" font-weight="bold" fill="#000" >20</text>
<line x1="346.70" y1="232.60" x2="350.10" y2="232.60" stroke="#000" stroke-width="1.4" />
<text x="345.70" y="235.85" font-size="8.2" text-anchor="end" font-weight="bold" fill="#000" >30</text>
<line x1="346.70" y1="210.30" x2="350.10" y2="210.30" stroke="#000" stroke-width="1.4" />
<text x="345.70" y="213.55" font-size="8.2" text-anchor="end" font-weight="bold" fill="#000" >40</text>
<line x1="346.70" y1="188.00" x2="350.10" y2="188.00" stroke="#000" stroke-width="1.4" />
<text x="345.70" y="191.25" font-size="8.2" text-anchor="end" font-weight="bold" fill="#000" >50</text>
<line x1="349.50" y1="299.50" x2="516.30" y2="299.50" stroke="#000" stroke-width="1.3" />
<text transform="translate(327.80,243.30) rotate(-90)" font-size="9.9" text-anchor="middle" font-weight="normal" fill="#000" >% degranulated cells</text>
<rect x="356.85" y="188.70" width="6.6" height="5.2" fill="#fff" stroke="#000" stroke-width="1.1"/>
<text x="366.55" y="194.00" font-size="10.2" text-anchor="start" font-weight="normal" fill="#000" >3KO</text>
<rect x="356.35" y="199.60" width="7.6" height="6.8" fill="#000"/>
<text x="366.55" y="205.60" font-size="10.2" text-anchor="start" font-weight="normal" fill="#000" >3KOIIA</text>
<text x="366.65" y="309.80" font-size="10" text-anchor="middle" font-weight="normal" fill="#000" >ctrl</text>
<text x="400.00" y="309.80" font-size="10" text-anchor="middle" font-weight="normal" fill="#000" >ag</text>
<text x="433.05" y="309.80" font-size="10" text-anchor="middle" font-weight="normal" fill="#000" >serum</text>
<text x="466.50" y="309.80" font-size="10" text-anchor="middle" font-weight="normal" fill="#000" >IC</text>
<text x="499.85" y="309.80" font-size="10" text-anchor="middle" font-weight="normal" fill="#000" >α-IgE</text>
<text x="424.30" y="324.60" font-size="9.85" text-anchor="middle" font-weight="normal" fill="#000" >GPI + α-GPI&#160; anti-serum</text>
<line x1="483.60" y1="187.80" x2="483.60" y2="326.40" stroke="#000" stroke-width="1.25" stroke-dasharray="3.6,2.6"/>
<text x="315.80" y="347.80" font-size="17.3" text-anchor="start" font-weight="bold" fill="#000" >F</text>
<rect x="350.60" y="447.70" width="165.70" height="16.40" fill="#9a9a9a"/>
<rect x="357.05" y="448.30" width="7.90" height="15.80" fill="#fff" stroke="#000" stroke-width="1.2"/>
<rect x="368.75" y="446.60" width="8.60" height="17.50" fill="#000"/>
<line x1="367.25" y1="464.10" x2="367.25" y2="466.90" stroke="#000" stroke-width="1.2" />
<rect x="390.40" y="448.30" width="7.90" height="15.80" fill="#fff" stroke="#000" stroke-width="1.2"/>
<rect x="402.10" y="443.90" width="8.60" height="20.20" fill="#000"/>
<line x1="400.60" y1="464.10" x2="400.60" y2="466.90" stroke="#000" stroke-width="1.2" />
<rect x="423.45" y="443.40" width="7.90" height="20.70" fill="#fff" stroke="#000" stroke-width="1.2"/>
<rect x="435.15" y="443.20" width="8.60" height="20.90" fill="#000"/>
<line x1="433.65" y1="464.10" x2="433.65" y2="466.90" stroke="#000" stroke-width="1.2" />
<rect x="456.90" y="441.30" width="7.90" height="22.80" fill="#fff" stroke="#000" stroke-width="1.2"/>
<rect x="468.60" y="398.60" width="8.60" height="65.50" fill="#000"/>
<line x1="467.10" y1="464.10" x2="467.10" y2="466.90" stroke="#000" stroke-width="1.2" />
<rect x="490.25" y="372.50" width="7.90" height="91.60" fill="#fff" stroke="#000" stroke-width="1.2"/>
<rect x="501.95" y="390.10" width="8.60" height="74.00" fill="#000"/>
<line x1="500.45" y1="464.10" x2="500.45" y2="466.90" stroke="#000" stroke-width="1.2" />
<line x1="350.60" y1="352.65" x2="350.60" y2="464.80" stroke="#000" stroke-width="1.4" />
<line x1="347.20" y1="464.10" x2="350.60" y2="464.10" stroke="#000" stroke-width="1.4" />
<text x="346.20" y="467.35" font-size="8.2" text-anchor="end" font-weight="bold" fill="#000" >0</text>
<line x1="347.20" y1="441.95" x2="350.60" y2="441.95" stroke="#000" stroke-width="1.4" />
<text x="346.20" y="445.20" font-size="8.2" text-anchor="end" font-weight="bold" fill="#000" >100</text>
<line x1="347.20" y1="419.80" x2="350.60" y2="419.80" stroke="#000" stroke-width="1.4" />
<text x="346.20" y="423.05" font-size="8.2" text-anchor="end" font-weight="bold" fill="#000" >200</text>
<line x1="347.20" y1="397.65" x2="350.60" y2="397.65" stroke="#000" stroke-width="1.4" />
<text x="346.20" y="400.90" font-size="8.2" text-anchor="end" font-weight="bold" fill="#000" >300</text>
<line x1="347.20" y1="375.50" x2="350.60" y2="375.50" stroke="#000" stroke-width="1.4" />
<text x="346.20" y="378.75" font-size="8.2" text-anchor="end" font-weight="bold" fill="#000" >400</text>
<line x1="347.20" y1="353.35" x2="350.60" y2="353.35" stroke="#000" stroke-width="1.4" />
<text x="346.20" y="356.60" font-size="8.2" text-anchor="end" font-weight="bold" fill="#000" >500</text>
<line x1="350.00" y1="464.10" x2="516.30" y2="464.10" stroke="#000" stroke-width="1.3" />
<text transform="translate(327.90,407.20) rotate(-90)" font-size="10.35" text-anchor="middle" font-weight="normal" fill="#000" >histamine [ng/ml]</text>
<rect x="358.55" y="354.20" width="6.6" height="5.2" fill="#fff" stroke="#000" stroke-width="1.1"/>
<text x="368.25" y="359.50" font-size="10.2" text-anchor="start" font-weight="normal" fill="#000" >3KO</text>
<rect x="358.05" y="365.10" width="7.6" height="6.8" fill="#000"/>
<text x="368.25" y="371.10" font-size="10.2" text-anchor="start" font-weight="normal" fill="#000" >3KOIIA</text>
<text x="366.65" y="475.70" font-size="10" text-anchor="middle" font-weight="normal" fill="#000" >ctrl</text>
<text x="400.00" y="475.70" font-size="10" text-anchor="middle" font-weight="normal" fill="#000" >ag</text>
<text x="433.05" y="475.70" font-size="10" text-anchor="middle" font-weight="normal" fill="#000" >serum</text>
<text x="466.50" y="475.70" font-size="10" text-anchor="middle" font-weight="normal" fill="#000" >IC</text>
<text x="499.85" y="475.70" font-size="10" text-anchor="middle" font-weight="normal" fill="#000" >α-IgE</text>
<text x="424.30" y="489.60" font-size="9.85" text-anchor="middle" font-weight="normal" fill="#000" >GPI + α-GPI&#160; anti-serum</text>
<line x1="483.60" y1="353.50" x2="483.60" y2="490.40" stroke="#000" stroke-width="1.25" stroke-dasharray="3.6,2.6"/>
</svg></body></html>
